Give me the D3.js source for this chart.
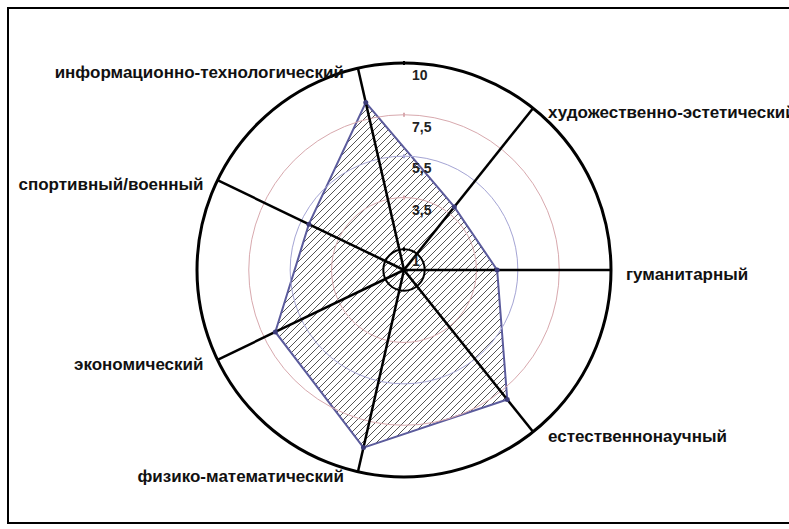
<!DOCTYPE html>
<html>
<head>
<meta charset="utf-8">
<script src="https://cdn.jsdelivr.net/npm/d3@7"></script>
<style>
  body { margin: 0; background: #fff; }
  text { font-family: "Liberation Sans", Arial, sans-serif; font-weight: bold; }
</style>
</head>
<body>
<svg id="chart" width="789" height="529"></svg>
<script>
const categories = [
  "гуманитарный",
  "художественно-эстетический",
  "информационно-технологический",
  "спортивный/военный",
  "экономический",
  "физико-математический",
  "естественнонаучный"
];
const values = [4.5, 3.9, 8.3, 5.1, 6.9, 8.8, 8.0];
const ringValues = [10, 7.5, 5.5, 3.5, 1];
const ringLabels = ["10", "7,5", "5,5", "3,5", "1"];
const ringColors = ["#000", "#d8a9ae", "#a4a4d4", "#d8a9ae", "#000"];

const svg = d3.select("#chart");
const cx = 404, cy = 270;
const r = d3.scaleLinear().domain([0, 10]).range([0, 207]);
const angle = d3.scaleLinear().domain([0, categories.length]).range([0, 2 * Math.PI]);

const pt = (i, v) => [cx + r(v) * Math.cos(angle(i)), cy - r(v) * Math.sin(angle(i))];

// frame
svg.append("rect")
  .attr("x", 8).attr("y", 8)
  .attr("width", 820).attr("height", 515)
  .attr("fill", "none").attr("stroke", "#000").attr("stroke-width", 2);

// hatch pattern
const defs = svg.append("defs");
const pat = defs.append("pattern")
  .attr("id", "hatch")
  .attr("patternUnits", "userSpaceOnUse")
  .attr("width", 7).attr("height", 7);
pat.append("path")
  .attr("d", "M0,7 L7,0 M-1,1 L1,-1 M6,8 L8,6")
  .attr("stroke", "#555").attr("stroke-width", 1);

// data polygon
const poly = values.map((v, i) => pt(i, v));
svg.append("path")
  .attr("d", d3.line()(poly) + "Z")
  .attr("fill", "url(#hatch)")
  .attr("stroke", "#5b5b9c")
  .attr("stroke-width", 2);

// rings
svg.append("g").selectAll("circle")
  .data(ringValues)
  .join("circle")
  .attr("cx", cx).attr("cy", cy)
  .attr("r", (d) => r(d))
  .attr("fill", "none")
  .attr("stroke", (d, i) => ringColors[i])
  .attr("stroke-width", (d, i) => (i === 0 ? 3 : i === 4 ? 2 : 1));

// ring top ticks
svg.append("g").selectAll("line")
  .data(ringValues)
  .join("line")
  .attr("x1", cx).attr("x2", cx)
  .attr("y1", (d) => cy - r(d) - 2)
  .attr("y2", (d) => cy - r(d) + 2)
  .attr("stroke", (d, i) => ringColors[i])
  .attr("stroke-width", 2);

// spokes
svg.append("g").selectAll("line")
  .data(categories)
  .join("line")
  .attr("x1", cx).attr("y1", cy)
  .attr("x2", (d, i) => pt(i, 10)[0])
  .attr("y2", (d, i) => pt(i, 10)[1])
  .attr("stroke", "#000")
  .attr("stroke-width", 2.5);

// vertex markers
svg.append("g").selectAll("circle")
  .data(poly)
  .join("circle")
  .attr("cx", (d) => d[0]).attr("cy", (d) => d[1])
  .attr("r", 2.5)
  .attr("fill", "#3c3c7a");

// ring labels
svg.append("g").selectAll("text")
  .data(ringValues)
  .join("text")
  .attr("x", cx + 8)
  .attr("y", (d) => cy - r(d) + 17)
  .attr("font-size", "14px")
  .attr("fill", "#222")
  .text((d, i) => ringLabels[i]);

// category labels
svg.append("g").selectAll("text")
  .data(categories)
  .join("text")
  .attr("x", (d, i) => {
    const [x] = pt(i, 10);
    return Math.cos(angle(i)) > 0.01 ? x + 15 : x - 14;
  })
  .attr("y", (d, i) => pt(i, 10)[1] + 10)
  .attr("text-anchor", (d, i) => (Math.cos(angle(i)) > 0.01 ? "start" : "end"))
  .attr("font-size", "17px")
  .attr("fill", "#111")
  .text((d) => d);
</script>
</body>
</html>
